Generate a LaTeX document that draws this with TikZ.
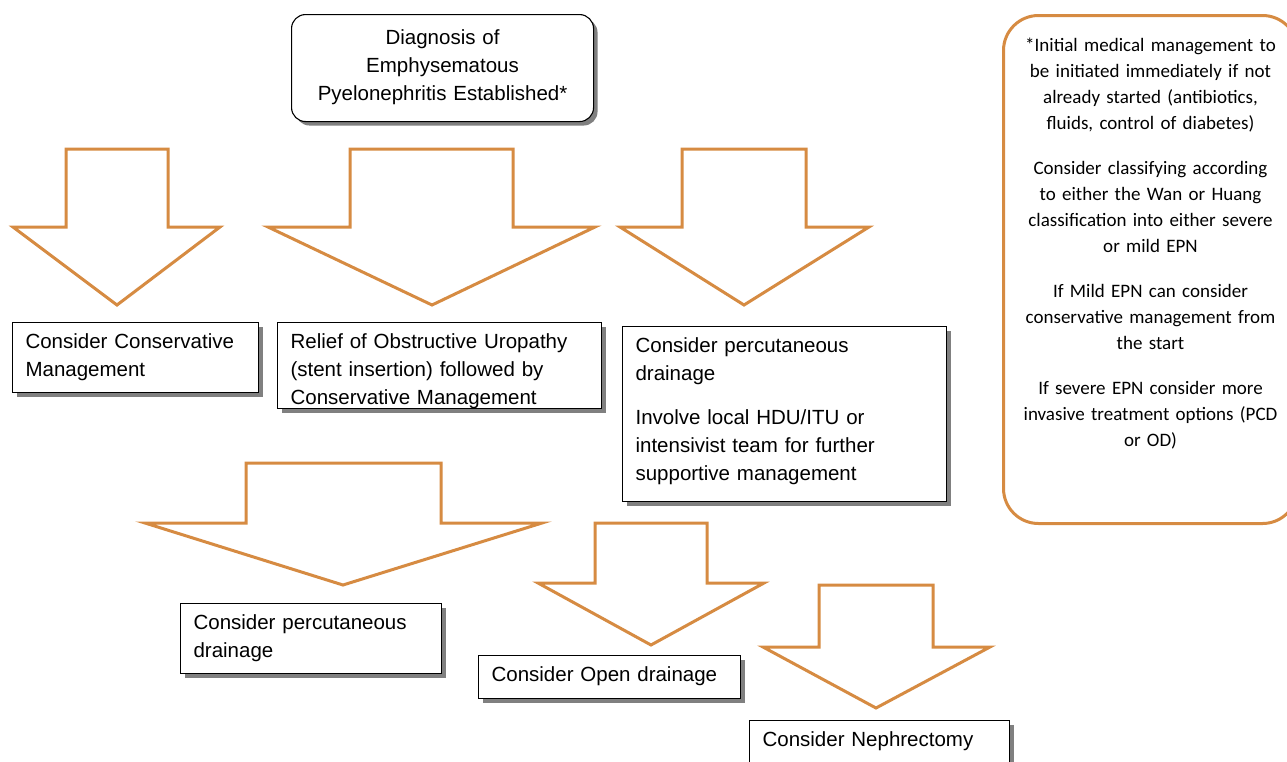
\documentclass[tikz,border=0pt]{standalone}
\usepackage{fontspec}
\setmainfont{Liberation Sans}
\newfontfamily\calib{Carlito}
\usetikzlibrary{shadows}
\definecolor{epnorange}{RGB}{214,139,66}
\newcommand\padtop[1]{\rule{0pt}{#1pt}}
\newcommand\padbot[1]{\rule[-#1pt]{0pt}{#1pt}}
% block arrow: shaft left, shaft right, top, shoulder, wing left, wing right, tip x, tip y
\newcommand\blockarrow[8]{%
  \draw[bigarrow] (#1,#3) -- (#2,#3) -- (#2,#4) -- (#6,#4) -- (#7,#8) -- (#5,#4) -- (#1,#4) -- cycle;}
\tikzset{
  bigarrow/.style={draw=epnorange, line width=3pt, fill=white, line join=miter},
  boxshadow/.style={drop shadow={shadow xshift=4pt, shadow yshift=-4pt, fill=black!50, opacity=1}},
  flowbox/.style={draw=black, line width=1.1pt, fill=white, inner xsep=13pt, inner ysep=0pt,
    anchor=north west, align=left, font=\fontsize{20.5}{28}\selectfont, boxshadow},
  startbox/.style={flowbox, rounded corners=14pt, align=center},
  notebox/.style={draw=epnorange, line width=3pt, rounded corners=35pt, inner sep=0pt,
    anchor=north west, align=center, font=\calib\fontsize{19}{26}\selectfont},
}
\begin{document}
\begin{tikzpicture}[x=1pt, y=-1pt]
\useasboundingbox (0,0) rectangle (1287,761);
\clip (0,0) rectangle (1287,761);

% block arrows
\blockarrow{66}{168}{149}{227}{13}{220}{117}{305}
\blockarrow{350}{513}{149}{227}{268}{595}{432}{305}
\blockarrow{682}{806}{149}{227}{620}{869}{744}{305}
\blockarrow{246}{441}{463}{523}{145}{542}{343}{585}
\blockarrow{595}{707}{523}{583}{538}{764}{651}{645}
\blockarrow{819}{933}{585}{647}{763}{990}{876}{708}

% start box
\node[startbox, text width=276pt] (start) at (291,14)
  {\padtop{30}Diagnosis of\\ Emphysematous\\ Pyelonephritis Established*\padbot{21}};

% first row
\node[flowbox, text width=220pt] (cons) at (12,322)
  {\padtop{26}Consider Conservative\\ Management\padbot{16}};
\node[flowbox, text width=298pt] (relief) at (277,322)
  {\padtop{26}Relief of Obstructive Uropathy\\ (stent insertion) followed by\\ Conservative Management\padbot{3}};
\node[flowbox, text width=298pt] (perc) at (622,326)
  {\padtop{26}Consider percutaneous\\ drainage\\[16pt] Involve local HDU/ITU or\\ intensivist team for further\\ supportive management\padbot{21}};

% lower boxes
\node[flowbox, text width=235pt] (perc2) at (180,603)
  {\padtop{26}Consider percutaneous\\ drainage\padbot{16}};
\node[flowbox, text width=236pt] (open) at (478,655)
  {\padtop{26}Consider Open drainage\padbot{17}};
\node[flowbox, text width=234pt] (neph) at (749,720)
  {\padtop{26}Consider Nephrectomy\padbot{19}};

% note box
\node[notebox, text width=294pt] (note) at (1002,14)
  {\padtop{36}*Initial medical management to\\ be initiated immediately if not\\ already started (antibiotics,\\ fluids, control of diabetes)\\[19pt]
   Consider classifying according\\ to either the Wan or Huang\\ classification into either severe\\ or mild EPN\\[19pt]
   If Mild EPN can consider\\ conservative management from\\ the start\\[19pt]
   If severe EPN consider more\\ invasive treatment options (PCD\\ or OD)\padbot{77}};
\end{tikzpicture}
\end{document}
